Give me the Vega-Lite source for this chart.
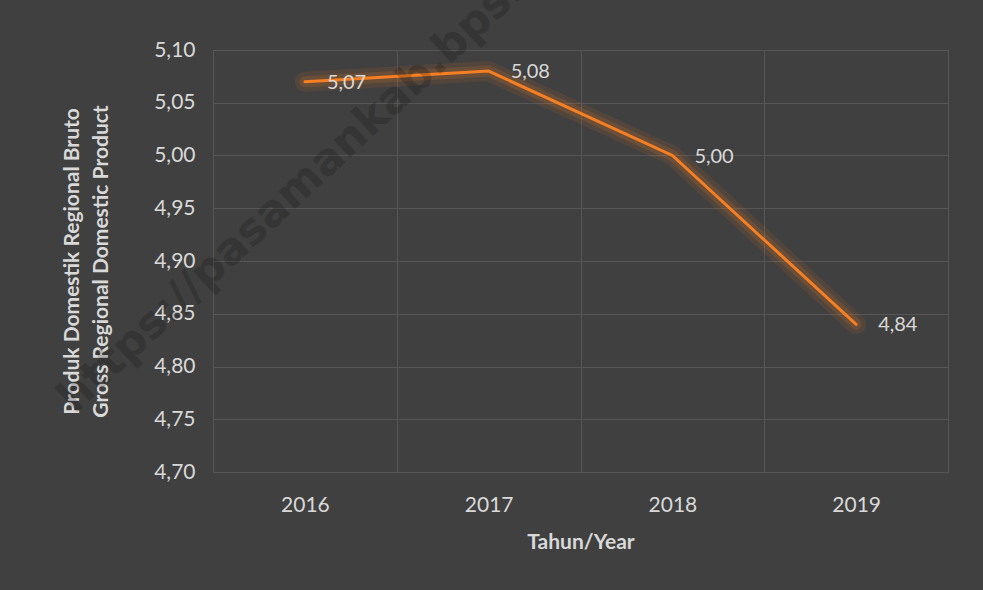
{
  "$schema": "https://vega.github.io/schema/vega-lite/v6.json",
  "autosize": {"type": "none"},
  "width": 735,
  "height": 422,
  "padding": {"left": 213, "top": 50, "right": 35, "bottom": 118},
  "background": "#404040",
  "config": {
    "locale": {"number": {"decimal": ",", "thousands": ".", "grouping": [3], "currency": ["", ""]}},
    "view": {"stroke": "#565656", "strokeWidth": 1},
    "font": "Lato",
    "axis": {
      "labelColor": "#d9d9d9",
      "titleColor": "#d9d9d9",
      "labelFont": "Lato",
      "titleFont": "Lato",
      "labelFontSize": 21,
      "domain": false,
      "ticks": false
    }
  },
  "data": {
    "values": [
      {"year": "2016", "value": 5.07},
      {"year": "2017", "value": 5.08},
      {"year": "2018", "value": 5.00},
      {"year": "2019", "value": 4.84}
    ]
  },
  "encoding": {
    "x": {
      "field": "year",
      "type": "ordinal",
      "scale": {"paddingInner": 0, "paddingOuter": 0},
      "axis": {
        "labelAngle": 0,
        "labelPadding": 22,
        "grid": true,
        "tickBand": "extent",
        "gridColor": "#565656",
        "title": "Tahun/Year",
        "titleFontSize": 21,
        "titleFontWeight": "bold",
        "titlePadding": 16
      }
    },
    "y": {
      "field": "value",
      "type": "quantitative",
      "scale": {"domain": [4.7, 5.1], "nice": false, "zero": false},
      "axis": {
        "values": [4.7, 4.75, 4.8, 4.85, 4.9, 4.95, 5.0, 5.05, 5.1],
        "format": ".2f",
        "labelPadding": 18,
        "grid": true,
        "gridColor": "#565656",
        "title": ["Produk Domestik Regional Bruto", "Gross Regional Domestic Product"],
        "titleFontSize": 21,
        "titleFontWeight": "bold",
        "titleLineHeight": 29,
        "titlePadding": 42
      }
    }
  },
  "layer": [
    {"mark": {"type": "line", "color": "#f47c20", "strokeWidth": 20, "opacity": 0.1, "strokeCap": "round", "strokeJoin": "round"}},
    {"mark": {"type": "line", "color": "#f47c20", "strokeWidth": 11, "opacity": 0.16, "strokeCap": "round", "strokeJoin": "round"}},
    {"mark": {"type": "line", "color": "#f57f22", "strokeWidth": 3, "strokeCap": "round"}},
    {
      "mark": {"type": "text", "align": "left", "baseline": "middle", "dx": 22, "dy": 1, "fontSize": 20, "color": "#d9d9d9"},
      "encoding": {"text": {"field": "value", "type": "quantitative", "format": ".2f"}}
    },
    {
      "data": {"values": [{"year": "2016", "value": 4.958, "mark": "https://pasamankab.bps.go.id"}]},
      "mark": {"type": "text", "align": "left", "baseline": "alphabetic", "angle": -43, "dx": -315, "font": "DejaVu Sans", "fontSize": 44, "fontWeight": "bold", "color": "#000000", "opacity": 0.17},
      "encoding": {"text": {"field": "mark", "type": "nominal"}}
    }
  ]
}
